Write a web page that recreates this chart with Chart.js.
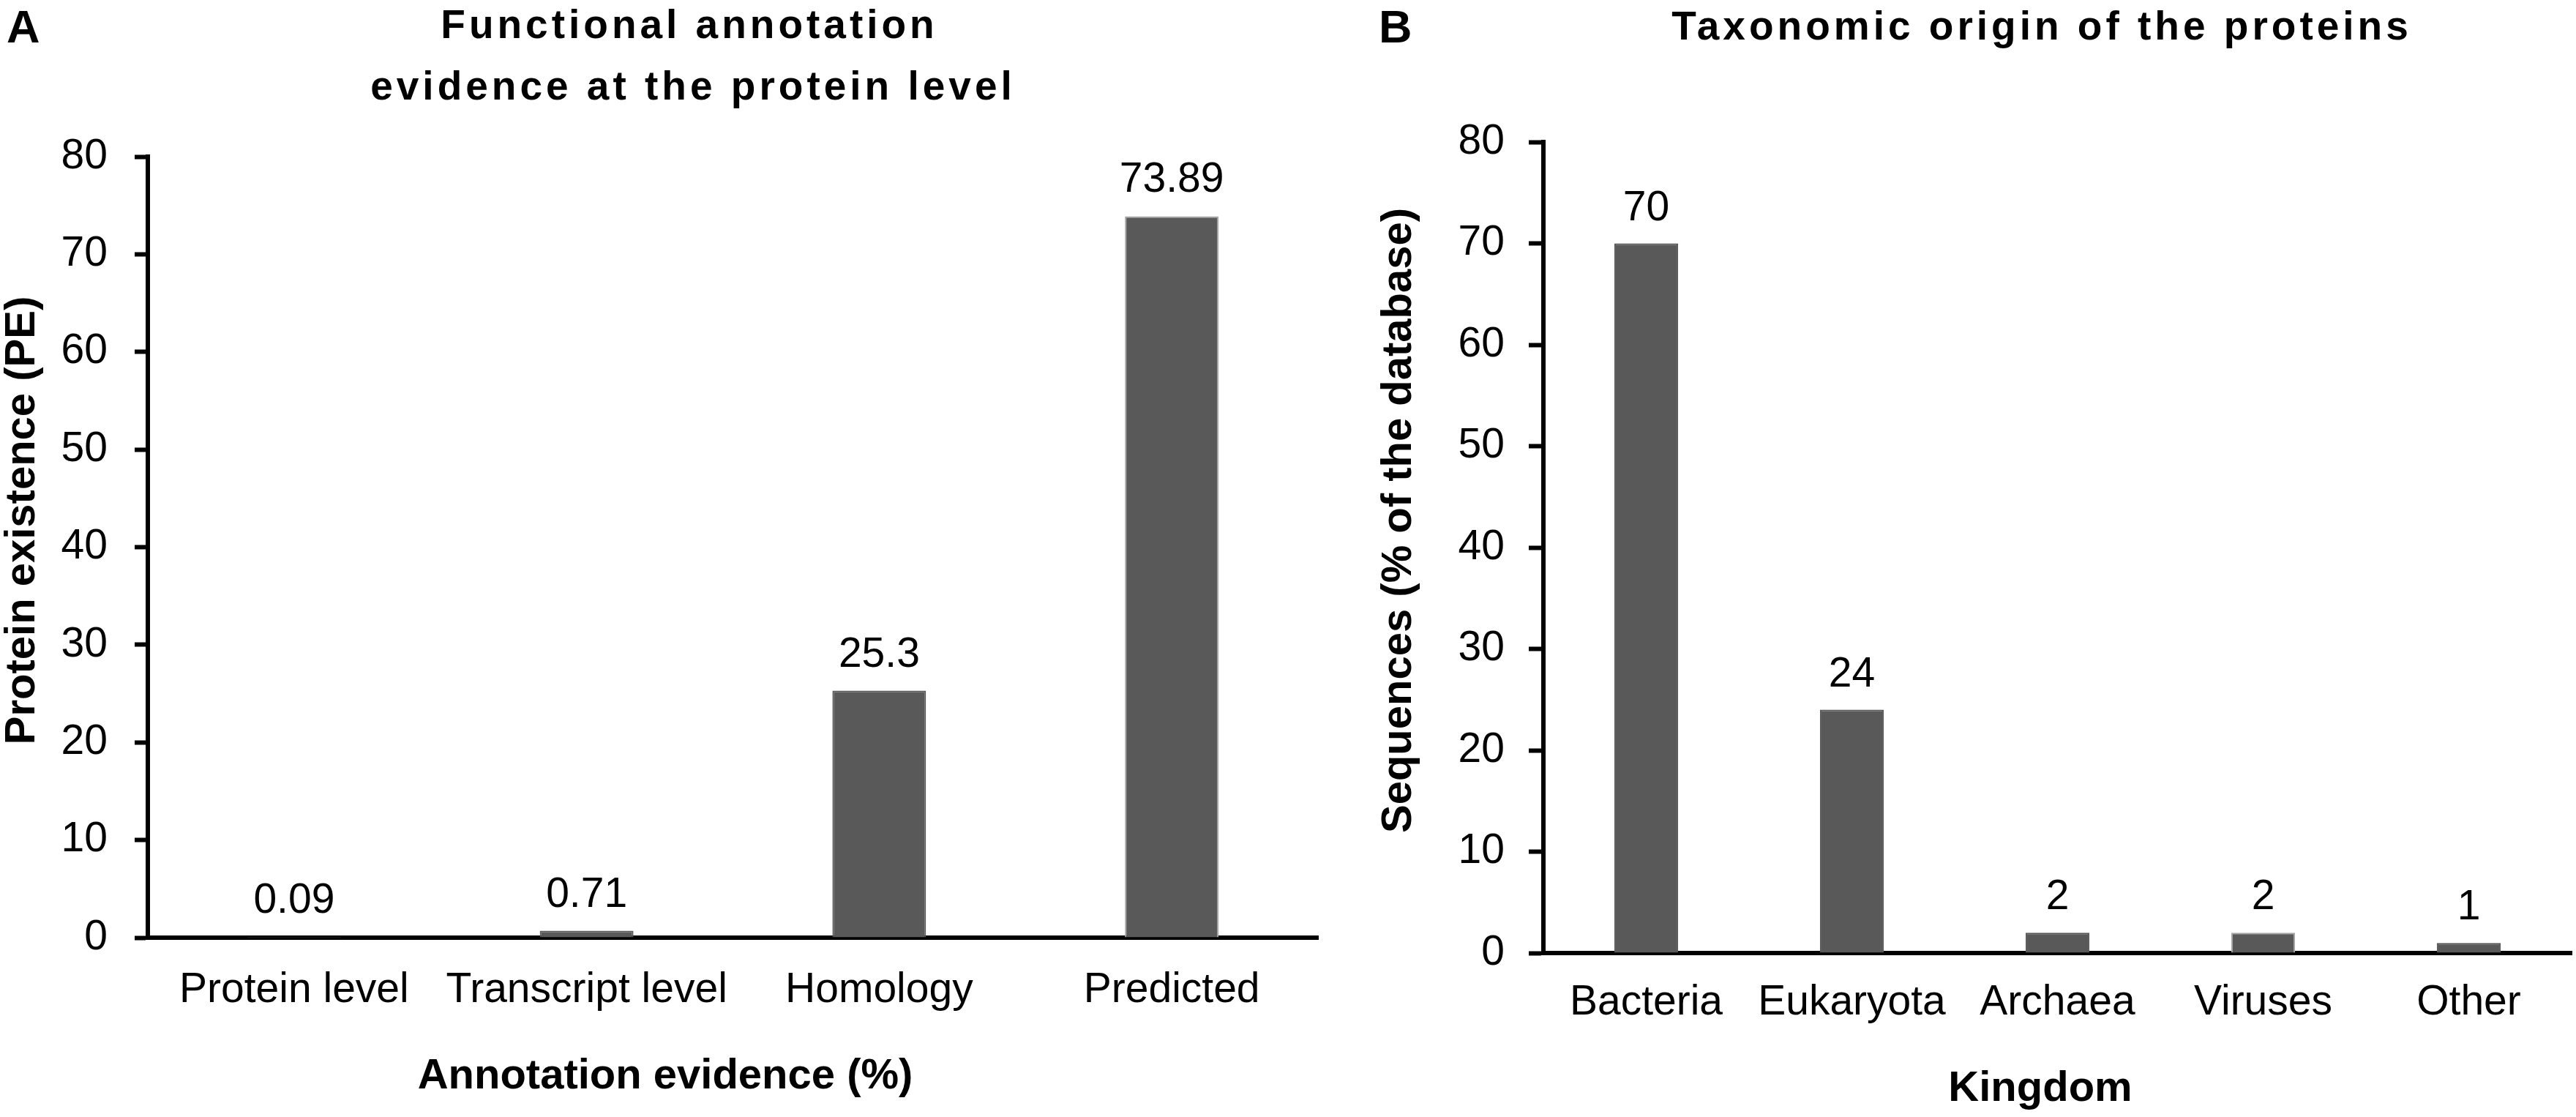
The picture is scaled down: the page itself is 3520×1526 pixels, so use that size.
<!DOCTYPE html>
<html>
<head>
<meta charset="utf-8">
<script src="https://cdn.jsdelivr.net/npm/chart.js@4.4.1/dist/chart.umd.min.js"></script>
<style>
  html, body { margin: 0; padding: 0; background: #fff; }
  body { width: 3520px; height: 1526px; position: relative; overflow: hidden; }
  canvas { position: absolute; top: 0; }
  #chartA { left: 0; }
  #chartB { left: 1880px; }
</style>
</head>
<body>
<canvas id="chartA" width="1820" height="1526"></canvas>
<canvas id="chartB" width="1640" height="1526"></canvas>
<script>
// Panel A - annotation evidence
const evidenceLabels = ['Protein level', 'Transcript level', 'Homology', 'Predicted'];
const evidenceValues = [0.09, 0.71, 25.3, 73.89];

// Panel B - kingdoms
const kingdomLabels = ['Bacteria', 'Eukaryota', 'Archaea', 'Viruses', 'Other'];
const kingdomValues = [70, 24, 2, 2, 1];

// shared y tick values
const yTickValues = [0, 10, 20, 30, 40, 50, 60, 70, 80];

const FONT = '"Liberation Sans", Arial, Helvetica, sans-serif';
const BAR = '#595959';
const BAR_EDGE = '#a6a6a6';

// writes the value above each bar
const barValues = {
    id: 'barValues',
    afterDatasetsDraw(chart, args, opts) {
        const ctx = chart.ctx;
        const meta = chart.getDatasetMeta(0);
        const values = chart.data.datasets[0].data;
        ctx.save();
        ctx.font = opts.size + 'px ' + FONT;
        ctx.fillStyle = '#000';
        ctx.textAlign = 'center';
        ctx.textBaseline = 'alphabetic';
        meta.data.forEach(function (bar, i) {
            ctx.fillText(String(values[i]), bar.x, bar.y - opts.offset);
        });
        ctx.restore();
    }
};

// panel letter, titles and axis titles
function textPlugin(items) {
    return {
        id: 'panelText',
        afterDraw(chart) {
            const ctx = chart.ctx;
            items.forEach(function (t) {
                ctx.save();
                ctx.font = t.font;
                ctx.fillStyle = '#000';
                ctx.textAlign = t.align || 'center';
                ctx.textBaseline = t.baseline || 'alphabetic';
                ctx.letterSpacing = t.spacing || '0px';
                ctx.translate(t.x, t.y);
                if (t.rotate) ctx.rotate(t.rotate);
                ctx.fillText(t.text, 0, 0);
                ctx.restore();
            });
        }
    };
}

function makeChart(id, labels, values, edges, cfg) {
    return new Chart(document.getElementById(id), {
        type: 'bar',
        data: {
            labels: labels,
            datasets: [{
                data: values,
                backgroundColor: BAR,
                borderColor: edges,
                borderWidth: 2,
                barPercentage: cfg.barPct,
                categoryPercentage: 1
            }]
        },
        options: {
            responsive: false,
            animation: false,
            devicePixelRatio: 1,
            layout: { padding: { left: 0, right: cfg.padRight, top: cfg.padTop, bottom: 0 } },
            plugins: {
                legend: { display: false },
                tooltip: { enabled: false },
                title: { display: false },
                barValues: { size: 57, offset: cfg.valueOffset }
            },
            scales: {
                x: {
                    z: 1,
                    grid: { display: false, drawTicks: false },
                    border: { display: true, color: '#000', width: 6 },
                    ticks: {
                        color: '#000',
                        padding: cfg.xPad,
                        maxRotation: 0,
                        autoSkip: false,
                        font: { family: FONT, size: 57 }
                    },
                    afterFit: function (s) { s.height = cfg.xHeight; }
                },
                y: {
                    min: 0,
                    max: 80,
                    grid: {
                        drawOnChartArea: false,
                        drawTicks: true,
                        tickLength: cfg.tickLen,
                        tickWidth: 6,
                        tickColor: '#000'
                    },
                    border: { display: true, color: '#000', width: 6 },
                    ticks: {
                        color: '#000',
                        padding: cfg.yPad,
                        font: { family: FONT, size: 57 }
                    },
                    afterBuildTicks: function (axis) {
                        axis.ticks = yTickValues.map(function (v) { return { value: v }; });
                    },
                    afterFit: function (s) { s.width = cfg.yWidth; }
                }
            }
        },
        plugins: [barValues, textPlugin(cfg.texts)]
    });
}

const TITLE_FONT = 'bold 55px ' + FONT;
const AXIS_FONT = 'bold 58px ' + FONT;

makeChart('chartA', evidenceLabels, evidenceValues, [BAR, BAR, BAR, BAR_EDGE], {
    padTop: 214,
    padRight: 19,
    barPct: 0.32,
    valueOffset: 33,
    xHeight: 245,
    xPad: 38,
    yWidth: 202,
    yPad: 37,
    tickLen: 18,
    texts: [
        { text: 'A', x: 9, y: 58, align: 'left', font: 'bold 63px ' + FONT },
        { text: 'Functional annotation', x: 942, y: 52, font: TITLE_FONT, spacing: '5px' },
        { text: 'evidence at the protein level', x: 947, y: 136, font: TITLE_FONT, spacing: '5px' },
        { text: 'Annotation evidence (%)', x: 909, y: 1487, font: AXIS_FONT },
        { text: 'Protein existence (PE)', x: 31, y: 711, rotate: -Math.PI / 2,
          baseline: 'middle', font: AXIS_FONT }
    ]
});

makeChart('chartB', kingdomLabels, kingdomValues, [BAR, BAR, BAR, BAR_EDGE, BAR], {
    padTop: 194,
    padRight: 6,
    barPct: 0.31,
    valueOffset: 32,
    xHeight: 224,
    xPad: 34,
    yWidth: 229,
    yPad: 33,
    tickLen: 20,
    texts: [
        { text: 'B', x: 4, y: 58, align: 'left', font: 'bold 63px ' + FONT },
        { text: 'Taxonomic origin of the proteins', x: 910, y: 54, font: TITLE_FONT, spacing: '5px' },
        { text: 'Kingdom', x: 908, y: 1504, font: AXIS_FONT },
        { text: 'Sequences (% of the database)', x: 32, y: 711, rotate: -Math.PI / 2,
          baseline: 'middle', font: AXIS_FONT }
    ]
});
</script>
</body>
</html>
